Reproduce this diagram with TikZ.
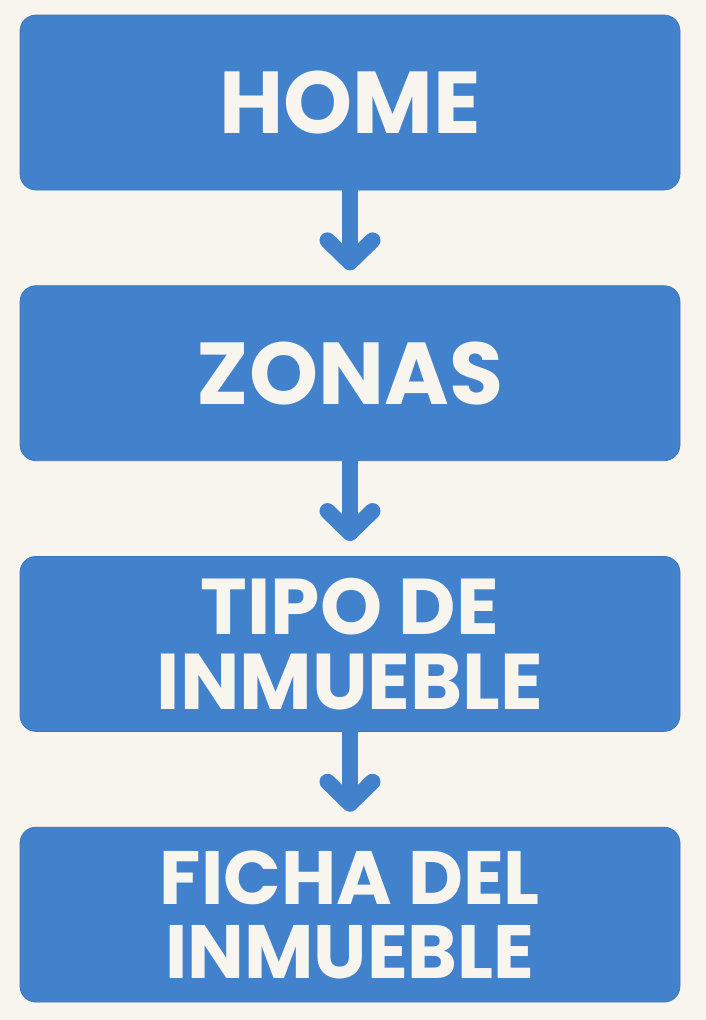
\documentclass[tikz,border=0pt]{standalone}
\usepackage{fontspec}
\setmainfont{Poppins}
\usetikzlibrary{positioning,arrows.meta}
\definecolor{boxblue}{HTML}{4282CD}
\definecolor{paper}{HTML}{F8F5EF}
\tikzstyle{screen} = [rectangle, fill=boxblue, draw=boxblue!90!black, line width=0.4pt, rounded corners=0.32cm, minimum width=13.2cm, minimum height=3.5cm, text=paper, font=\bfseries\fontsize{50}{40}\selectfont, align=center]
\tikzstyle{screen2} = [screen, font=\bfseries\fontsize{45}{43}\selectfont]
\tikzstyle{connector} = [line width=0.32cm, boxblue, line cap=round, -{Straight Barb[length=0.44cm, width=0.9cm, round]}, shorten >=0.3cm]

\begin{document}
\begin{tikzpicture}[node distance=1.9cm]
        \fill[paper] (0,0) rectangle (14.12,-20.4);
        \node (home) [screen] at (7.0,-2.05) {HOME};
        \node (zonas) [screen, below=of home] {ZONAS};
        \node (tipo) [screen2, below=of zonas] {TIPO DE\\INMUEBLE};
        \node (ficha) [screen2, font=\bfseries\fontsize{43}{42}\selectfont, below=of tipo] {FICHA DEL\\INMUEBLE};
        \draw [connector] (home) -- (zonas);
        \draw [connector] (zonas) -- (tipo);
        \draw [connector] (tipo) -- (ficha);
    \end{tikzpicture}
\end{document}
